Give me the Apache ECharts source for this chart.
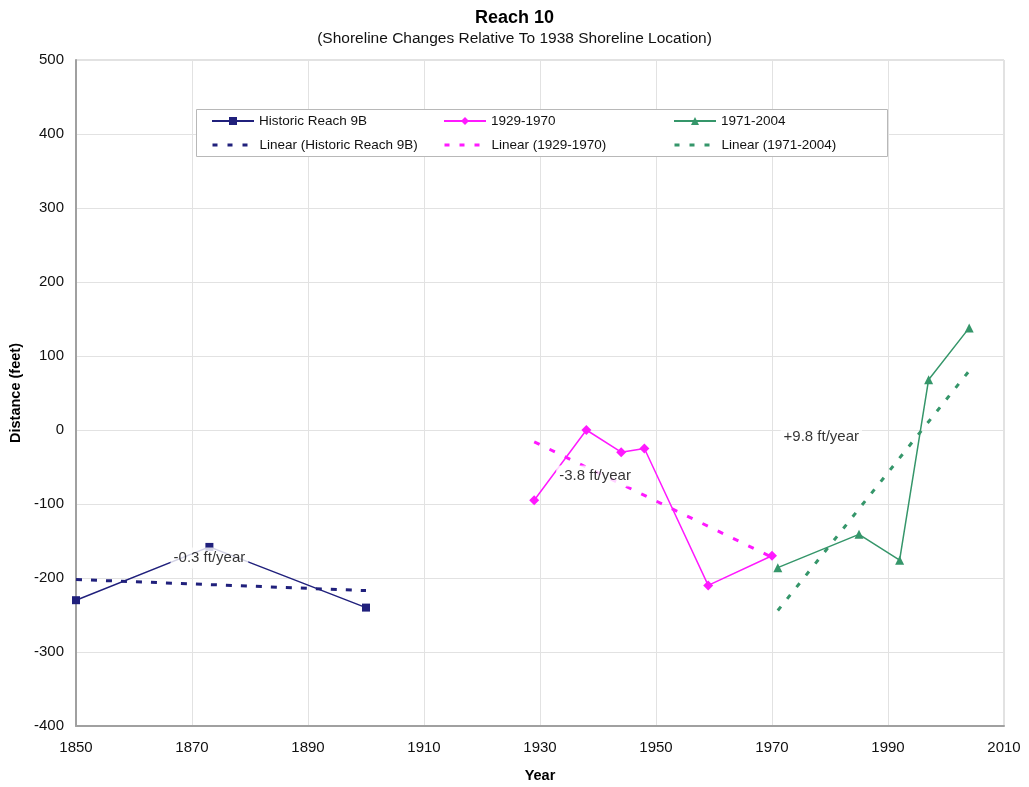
<!DOCTYPE html>
<html>
<head>
<meta charset="utf-8">
<title>Reach 10</title>
<script src="https://cdn.jsdelivr.net/npm/echarts@6/dist/echarts.min.js"></script>
<style>
  html, body { margin: 0; padding: 0; background: #fff; }
  #chart { width: 1029px; height: 787px; }
</style>
</head>
<body>
<div id="chart"></div>
<script>
// Shoreline position (feet) relative to the 1938 shoreline, by survey year
const historicYears = [1850, 1873, 1900];
const historicValues = [-230, -158, -240];

const earlyYears = [1929, 1938, 1944, 1948, 1959, 1970];
const earlyValues = [-95, 0, -30, -25, -210, -170];

const lateYears = [1971, 1985, 1992, 1997, 2004];
const lateValues = [-186, -141, -176, 68, 138];

// Linear trend lines (end points)
const historicTrendYears = [1850, 1900];
const historicTrendValues = [-202, -217];
const earlyTrendYears = [1929, 1970];
const earlyTrendValues = [-16, -172];
const lateTrendYears = [1971, 2004];
const lateTrendValues = [-244, 80];

// Rate annotations
const rateTexts = ['-0.3 ft/year', '-3.8 ft/year', '+9.8 ft/year'];
const rateYears = [1873, 1939.5, 1978.5];
const rateValues = [-173, -62, -9];

// Axis ticks
const xTickStart = 1850, xTickEnd = 2010, xTickStep = 20;
const yTickStart = -400, yTickEnd = 500, yTickStep = 100;

// The x axis runs in years after 1850 so the 20-year ticks start at 1850
const YEAR0 = xTickStart;
const pairs = (xs, ys) => xs.map((x, i) => [x - YEAR0, ys[i]]);

const FONT = '"Liberation Sans", Arial, sans-serif';
const NAVY = '#20207c';
const MAGENTA = '#ff19ff';
const GREEN = '#35966a';

const names = [
  'Historic Reach 9B', '1929-1970', '1971-2004',
  'Linear (Historic Reach 9B)', 'Linear (1929-1970)', 'Linear (1971-2004)'
];
const legendCols = [211, 443, 673];
const legendRows = [114, 138];

const chart = echarts.init(document.getElementById('chart'), null, { renderer: 'canvas' });

chart.setOption({
  backgroundColor: '#fff',
  animation: false,
  title: [
    {
      text: 'Reach 10', left: 'center', top: 4,
      textStyle: { fontFamily: FONT, fontSize: 18, fontWeight: 'bold', color: '#000' }
    },
    {
      text: '(Shoreline Changes Relative To 1938 Shoreline Location)', left: 'center', top: 26,
      textStyle: { fontFamily: FONT, fontSize: 15.5, fontWeight: 'normal', color: '#111' }
    }
  ],
  graphic: [{
    type: 'rect', left: 196, top: 109, z: 5,
    shape: { width: 691, height: 47 },
    style: { fill: '#fff', stroke: '#b8b8b8', lineWidth: 1 }
  }],
  legend: names.map((name, i) => ({
    data: [name],
    left: legendCols[i % 3],
    top: legendRows[Math.floor(i / 3)],
    z: 6,
    padding: 0,
    itemWidth: 42,
    itemHeight: 10,
    selectedMode: false,
    // trend entries show only their dashed line
    itemStyle: i >= 3 ? { opacity: 0 } : {},
    lineStyle: i >= 3 ? { width: 3, type: [5, 10] } : {},
    textStyle: { fontFamily: FONT, fontSize: 13.5, color: '#111' }
  })),
  grid: {
    left: 76, right: 25, top: 60, bottom: 61,
    outerBoundsMode: 'none',
    show: true, borderColor: '#c4c4c4', borderWidth: 1
  },
  xAxis: {
    type: 'value',
    min: 0, max: xTickEnd - YEAR0, interval: xTickStep,
    name: 'Year', nameLocation: 'middle', nameGap: 42,
    nameTextStyle: { fontFamily: FONT, fontSize: 14.5, fontWeight: 'bold', color: '#000' },
    axisLine: { show: true, onZero: false, lineStyle: { color: '#a0a0a0', width: 2 } },
    axisTick: { show: false },
    axisLabel: {
      margin: 14, fontFamily: FONT, fontSize: 15, color: '#111',
      formatter: v => String(v + YEAR0)
    },
    splitLine: { show: true, lineStyle: { color: '#e2e2e2', width: 1 } }
  },
  yAxis: {
    type: 'value',
    min: yTickStart, max: yTickEnd, interval: yTickStep,
    name: 'Distance (feet)', nameLocation: 'middle', nameGap: 52,
    nameTextStyle: { fontFamily: FONT, fontSize: 14.5, fontWeight: 'bold', color: '#000' },
    axisLine: { show: true, onZero: false, lineStyle: { color: '#a0a0a0', width: 2 } },
    axisTick: { show: false },
    axisLabel: { margin: 12, fontFamily: FONT, fontSize: 15, color: '#111' },
    splitLine: { show: true, lineStyle: { color: '#e2e2e2', width: 1 } }
  },
  series: [
    {
      name: names[0], type: 'line', z: 3,
      data: pairs(historicYears, historicValues),
      symbol: 'rect', symbolSize: 8,
      lineStyle: { color: NAVY, width: 1.5 },
      itemStyle: { color: NAVY }
    },
    {
      name: names[1], type: 'line', z: 3,
      data: pairs(earlyYears, earlyValues),
      symbol: 'diamond', symbolSize: 10,
      lineStyle: { color: MAGENTA, width: 1.5 },
      itemStyle: { color: MAGENTA }
    },
    {
      name: names[2], type: 'line', z: 3,
      data: pairs(lateYears, lateValues),
      symbol: 'triangle', symbolSize: 9,
      lineStyle: { color: GREEN, width: 1.5 },
      itemStyle: { color: GREEN }
    },
    {
      name: names[3], type: 'line', z: 2,
      data: pairs(historicTrendYears, historicTrendValues),
      symbol: 'none',
      lineStyle: { color: NAVY, width: 3, type: [6, 9] },
      itemStyle: { color: NAVY }
    },
    {
      name: names[4], type: 'line', z: 2,
      data: pairs(earlyTrendYears, earlyTrendValues),
      symbol: 'none',
      lineStyle: { color: MAGENTA, width: 3, type: [6, 11] },
      itemStyle: { color: MAGENTA }
    },
    {
      name: names[5], type: 'line', z: 2,
      data: pairs(lateTrendYears, lateTrendValues),
      symbol: 'none',
      lineStyle: { color: GREEN, width: 3, type: [5, 10] },
      itemStyle: { color: GREEN }
    },
    {
      name: 'rates', type: 'scatter', z: 10,
      symbolSize: 0, silent: true,
      data: rateTexts.map((t, i) => ({ name: t, value: [rateYears[i] - YEAR0, rateValues[i]] })),
      label: {
        show: true, position: 'inside', formatter: p => p.name,
        fontFamily: FONT, fontSize: 15, color: '#000',
        backgroundColor: '#fff', padding: [3, 3]
      }
    }
  ]
});
</script>
</body>
</html>
